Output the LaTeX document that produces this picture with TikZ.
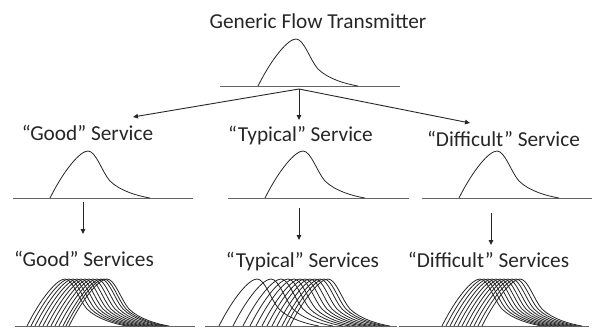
\documentclass[tikz,border=0pt]{standalone}
\usepackage{fontspec}
\setmainfont{Carlito}
\usetikzlibrary{arrows.meta}
\begin{document}
\begin{tikzpicture}[x=1pt,y=-1pt,
  lbl/.style={font=\fontsize{21.3}{24}\selectfont, text=black!85, inner sep=0pt, anchor=base},
  axisline/.style={draw=black!60, line width=0.9pt},
  hcurve/.style={draw=black!85, line width=0.8pt},
  conn/.style={draw=black!85, line width=0.9pt, -{Triangle[length=5pt,width=4.5pt]}},
  hump/.pic={\draw[hcurve] (-38,0) .. controls (-24,-28) and (-8,-47) .. (0,-47) .. controls (8,-47) and (14,-26) .. (22,-17) .. controls (32,-7) and (50,-2) .. (62,0);}
]
\useasboundingbox (0,0) rectangle (592,327);

% texts
\node[lbl] (title) at (318,28) {Generic Flow Transmitter};
\node[lbl] (good) at (87.5,140) {“Good” Service};
\node[lbl] (typ) at (300.5,141) {“Typical” Service};
\node[lbl] (diff) at (503.5,146) {“Difficult” Service};
\node[lbl] (goods) at (84,266) {“Good” Services};
\node[lbl] (typs) at (302.5,267) {“Typical” Services};
\node[lbl] (diffs) at (488.5,267) {“Difficult” Services};

% baselines
\draw[axisline] (220,86) -- (400,86);
\draw[axisline] (13,198) -- (193,198);
\draw[axisline] (228,198) -- (409,198);
\draw[axisline] (422,198) -- (592,198);
\draw[axisline] (15,326) -- (195,326);
\draw[axisline] (205,326) -- (397,326);
\draw[axisline] (399,326) -- (589,326);

% single humps
\pic at (296,86) {hump};
\pic at (88,198) {hump};
\pic at (303,198) {hump};
\pic at (497,198) {hump};

% bundles
\foreach \p in {65,69,73,77,81,85,89,93,97,101,104,107} \pic at (\p,326) {hump};
\foreach \p in {257,271,281,288,294,300,305,310,315,320,324,328} \pic at (\p,326) {hump};
\foreach \p in {480,484,488,492,496,500,504,508,512,516,520} \pic at (\p,326) {hump};

% connector coordinates
\coordinate (src) at (299,89);
\coordinate (tL) at (133,117);
\coordinate (tM) at (299,120);
\coordinate (tR) at (470,123);
\coordinate (dLs) at (83,202);
\coordinate (dLe) at (83,234);
\coordinate (dMs) at (299,208);
\coordinate (dMe) at (299,240);
\coordinate (dRs) at (491,213);
\coordinate (dRe) at (491,245);

\draw[conn] (src) -- (tL);
\draw[conn] (src) -- (tM);
\draw[conn] (src) -- (tR);
\draw[conn] (dLs) -- (dLe);
\draw[conn] (dMs) -- (dMe);
\draw[conn] (dRs) -- (dRe);
\end{tikzpicture}
\end{document}
